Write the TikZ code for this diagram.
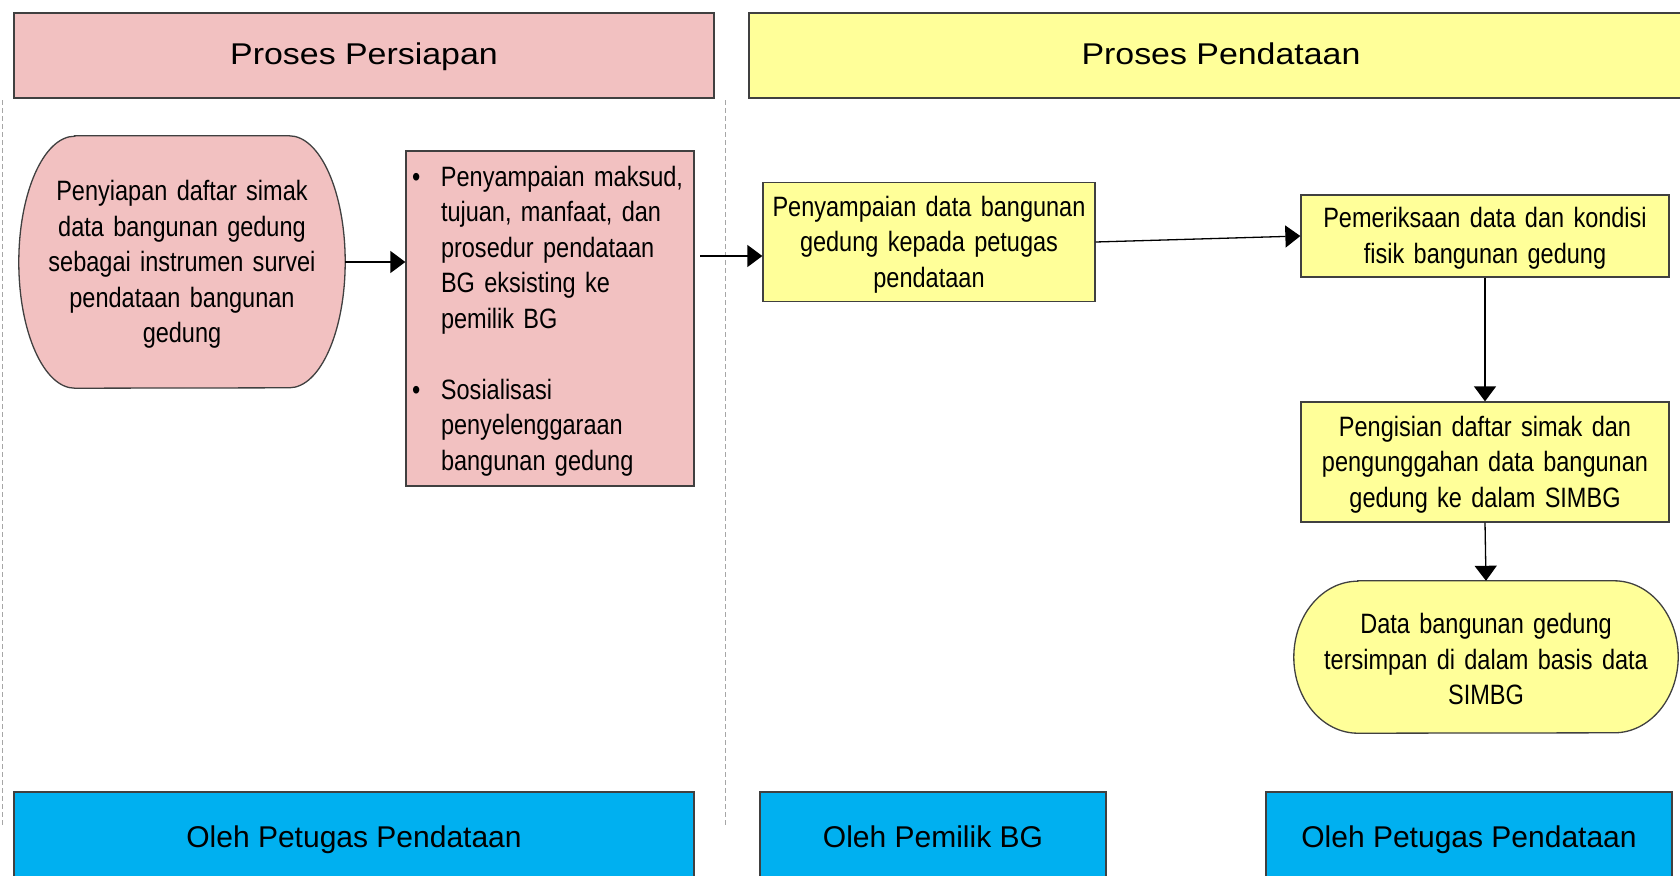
\documentclass[tikz,border=0pt]{standalone}
\usepackage{fontspec}
\setmainfont{Liberation Sans}
\newfontfamily\boxfont{Liberation Sans}[FakeStretch=0.84]
\newfontfamily\headfont{Liberation Sans}[FakeStretch=1.13]
\usetikzlibrary{arrows.meta,positioning,backgrounds,calc}
\definecolor{prep}{HTML}{F2C1C1}
\definecolor{collect}{HTML}{FFFF99}
\definecolor{actor}{HTML}{00B0F0}
\definecolor{outline}{HTML}{404040}
\definecolor{lanegray}{HTML}{A6A6A6}

\begin{document}
\begin{tikzpicture}[x=1pt,y=-1pt,
  header/.style={draw=outline,line width=1.3pt,inner sep=0pt,text height=21.5pt,text depth=4pt,font=\headfont\fontsize{30}{36}\selectfont},
  stepbox/.style={draw=outline,line width=1.3pt,inner sep=0pt,text width=324,align=center,font=\boxfont\fontsize{28}{35.5}\selectfont,
    execute at begin node={\rule{0pt}{25pt}}},
  terminal/.style={inner sep=0pt,text width=324,align=center,font=\boxfont\fontsize{28}{35.5}\selectfont,
    execute at begin node={\rule{0pt}{25pt}}},
  termline/.style={draw=outline,line width=1.3pt},
  actorbox/.style={draw=outline,fill=actor,line width=1.3pt,inner sep=0pt,text height=22pt,text depth=0pt,font=\fontsize{30}{36}\selectfont},
  flow/.style={line width=1.3pt,-{Triangle[length=15pt,width=22pt]}},
  laneline/.style={lanegray,line width=1pt,dash pattern=on 5pt off 3pt}]
  \useasboundingbox (0,0) rectangle (1680,875);

  % phase headers
  \node[header,fill=prep,minimum width=700,minimum height=85] (hdPrep) at (364,55.5) {Proses Persiapan};
  \node[header,fill=collect,minimum width=944,minimum height=85] (hdData) at (1221,55.5) {Proses Pendataan};

  % lane separators
  \draw[laneline] (2,100) -- (2,827);
  \draw[laneline] (725,100) -- (725,827);

  % Proses Persiapan
  \node[terminal,minimum width=326,minimum height=252] (prepList) at (182,262)
    {Penyiapan daftar simak\\data bangunan gedung\\sebagai instrumen survei\\pendataan bangunan\\gedung};
  \node[stepbox,fill=prep,minimum width=288,minimum height=335,text width=276,inner xsep=6pt,align=left] (prepSocial) at (550,318.5)
    {\makebox[29pt][l]{\textbullet}Penyampaian maksud,\\
     \hspace*{29pt}tujuan, manfaat, dan\\
     \hspace*{29pt}prosedur pendataan\\
     \hspace*{29pt}BG eksisting ke\\
     \hspace*{29pt}pemilik BG\\[35.5pt]
     \makebox[29pt][l]{\textbullet}Sosialisasi\\
     \hspace*{29pt}penyelenggaraan\\
     \hspace*{29pt}bangunan gedung};

  % Proses Pendataan
  \node[stepbox,fill=collect,minimum width=332,minimum height=119] (dataSend) at (929,242)
    {Penyampaian data bangunan\\gedung kepada petugas\\pendataan};
  \node[stepbox,fill=collect,minimum width=368,minimum height=82,text width=360] (dataCheck) at (1485,236)
    {Pemeriksaan data dan kondisi\\fisik bangunan gedung};
  \node[stepbox,fill=collect,minimum width=368,minimum height=120,text width=360] (dataUpload) at (1485,462)
    {Pengisian daftar simak dan\\pengunggahan data bangunan\\gedung ke dalam SIMBG};
  \node[terminal,minimum width=384,minimum height=152,text width=370] (dataStored) at (1486,657)
    {Data bangunan gedung\\tersimpan di dalam basis data\\SIMBG};

  % terminal outlines
  \begin{scope}[on background layer]
    \draw[termline,fill=prep] ($(prepList.north west)+(56pt,0)$) -- ($(prepList.north east)+(-56pt,0)$)
      arc[start angle=90,end angle=-90,x radius=56pt,y radius=126pt]
      -- ($(prepList.south west)+(56pt,0)$)
      arc[start angle=270,end angle=90,x radius=56pt,y radius=126pt] -- cycle;
    \draw[termline,fill=collect] ($(dataStored.north west)+(64pt,0)$) -- ($(dataStored.north east)+(-64pt,0)$)
      arc[start angle=90,end angle=-90,x radius=64pt,y radius=76pt]
      -- ($(dataStored.south west)+(64pt,0)$)
      arc[start angle=270,end angle=90,x radius=64pt,y radius=76pt] -- cycle;
  \end{scope}

  % actors
  \node[actorbox,minimum width=680,minimum height=88] (byOfficer) at (354,836) {Oleh Petugas Pendataan};
  \node[actorbox,minimum width=346,minimum height=88] (byOwner) at (933,836) {Oleh Pemilik BG};
  \node[actorbox,minimum width=406,minimum height=88] (byOfficerB) at (1469,836) {Oleh Petugas Pendataan};

  % flow
  \coordinate (handover) at (700,256);
  \draw[flow] (prepList.east) -- (prepList.east -| prepSocial.west);
  \draw[flow] (handover) -- (handover -| dataSend.west);
  \draw[flow] (dataSend.east) -- (dataCheck.west);
  \draw[flow] (dataCheck.south) -- (dataUpload.north);
  \draw[flow] (dataUpload.south) -- (dataStored.north);
\end{tikzpicture}
\end{document}
